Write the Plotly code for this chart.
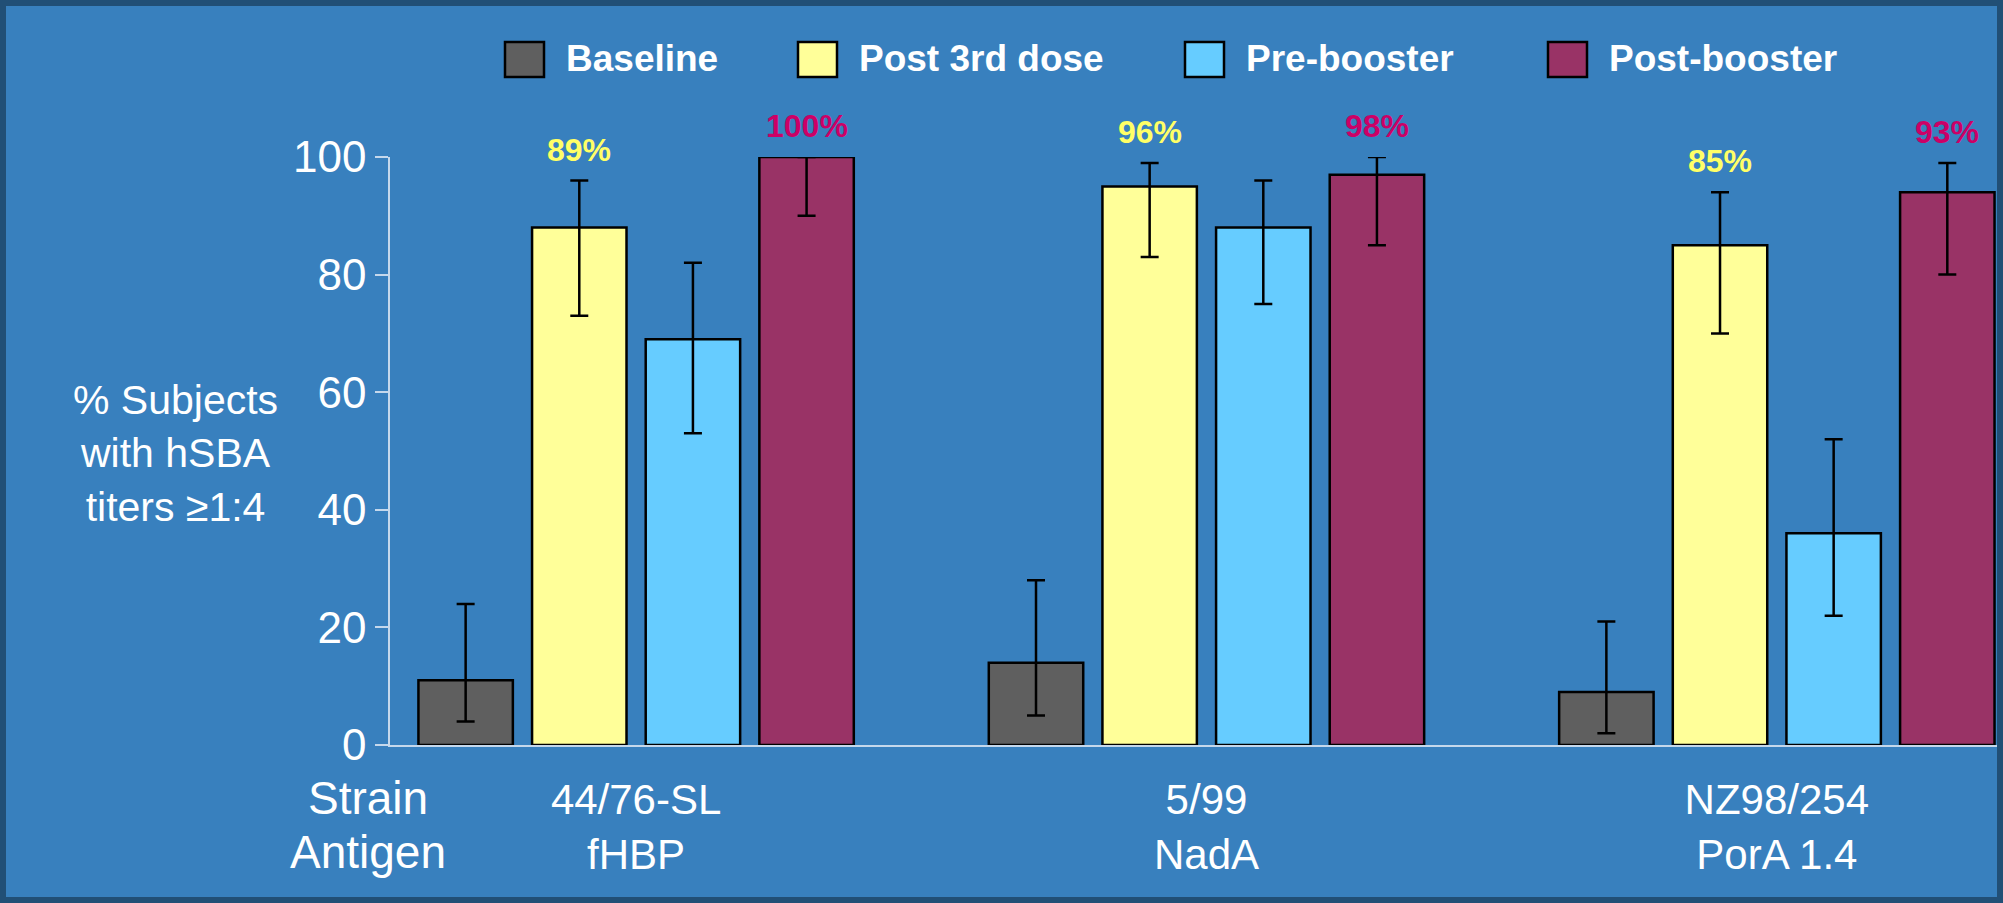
import plotly.graph_objects as go

# ---------------- data ----------------
strains = ["44/76-SL", "5/99", "NZ98/254"]
antigens = ["fHBP", "NadA", "PorA 1.4"]
row_labels = ["Strain", "Antigen"]
series_names = ["Baseline", "Post 3rd dose", "Pre-booster", "Post-booster"]

baseline = [11, 14, 9]
baseline_lo = [4, 5, 2]
baseline_hi = [24, 28, 21]

post3 = [88, 95, 85]
post3_lo = [73, 83, 70]
post3_hi = [96, 99, 94]

pre_boost = [69, 88, 36]
pre_boost_lo = [53, 75, 22]
pre_boost_hi = [82, 96, 52]

post_boost = [100, 97, 94]
post_boost_lo = [90, 85, 80]
post_boost_hi = [100, 100, 99]

post3_labels = ["89%", "96%", "85%"]
post_boost_labels = ["100%", "98%", "93%"]

y_ticks = [0, 20, 40, 60, 80, 100]
y_title = "% Subjects<br>with hSBA<br>titers \u22651:4"

# ---------------- style / layout ----------------
W, H = 2003, 903
L, R, T, B = 390, 6, 157, 158
PW, PH = W - L - R, H - T - B
BG = "#3880BE"
FRAME = "#214F76"
AXIS = "#C5D8EC"
FONT = "Liberation Sans, Arial, sans-serif"
colors = ["#5F5F5F", "#FFFF99", "#66CCFF", "#993366"]
label_colors = {1: "#FFFF66", 3: "#CC0066"}
BARGAP = 0.203
BARGROUPGAP = 0.169
legend_box_px = [505, 798, 1185, 1548]


def px_x(px):
    return (px - L) / PW


def px_y(py):
    return (H - B - py) / PH


series = [
    (baseline, baseline_lo, baseline_hi),
    (post3, post3_lo, post3_hi),
    (pre_boost, pre_boost_lo, pre_boost_hi),
    (post_boost, post_boost_lo, post_boost_hi),
]
xs = list(range(len(strains)))

fig = go.Figure()
for k, (vals, lo, hi) in enumerate(series):
    fig.add_trace(go.Bar(
        x=xs, y=vals, name=series_names[k], showlegend=False,
        marker=dict(color=colors[k], line=dict(color="black", width=2.5)),
        error_y=dict(type="data", symmetric=False,
                     array=[h - v for h, v in zip(hi, vals)],
                     arrayminus=[v - l for v, l in zip(vals, lo)],
                     color="black", thickness=2.5, width=9),
    ))

annotations = []
slot = (1 - BARGAP) / len(series)
for k, labels in ((1, post3_labels), (3, post_boost_labels)):
    hi = series[k][2]
    for i, txt in enumerate(labels):
        annotations.append(dict(
            x=i + (k - 1.5) * slot, y=hi[i], xref="x", yref="y",
            text=f"<b>{txt}</b>", showarrow=False, yshift=31,
            font=dict(family=FONT, size=32, color=label_colors[k]),
        ))

# row labels (Strain / Antigen)
for j, (txt, shift) in enumerate(zip(row_labels, [-53, -107])):
    annotations.append(dict(
        x=px_x(368), y=0, xref="paper", yref="paper", text=txt,
        showarrow=False, yshift=shift, xanchor="center", yanchor="middle",
        font=dict(family=FONT, size=46, color="white"),
    ))

# y title
annotations.append(dict(
    x=px_x(175), y=px_y(453), xref="paper", yref="paper", text=y_title,
    showarrow=False, align="center", xanchor="center", yanchor="middle",
    font=dict(family=FONT, size=41, color="white"),
))

# manual legend
shapes = []
for k, name in enumerate(series_names):
    x0 = legend_box_px[k]
    shapes.append(dict(
        type="rect", xref="paper", yref="paper",
        x0=px_x(x0), x1=px_x(x0 + 39), y0=px_y(77), y1=px_y(42),
        fillcolor=colors[k], line=dict(color="black", width=2.5),
    ))
    annotations.append(dict(
        x=px_x(x0 + 59), y=px_y(58), xref="paper", yref="paper",
        text=f"<b>{name}</b>", showarrow=False, xanchor="left",
        yanchor="middle",
        font=dict(family=FONT, size=37, color="white"),
    ))

# frame
shapes.append(dict(
    type="rect", xref="paper", yref="paper",
    x0=px_x(0), x1=px_x(W), y0=px_y(H), y1=px_y(0),
    line=dict(color=FRAME, width=12), fillcolor="rgba(0,0,0,0)",
    layer="above",
))

fig.update_layout(
    width=W, height=H,
    margin=dict(l=L, r=R, t=T, b=B, pad=0),
    paper_bgcolor=BG, plot_bgcolor=BG,
    barmode="group", bargap=BARGAP, bargroupgap=BARGROUPGAP,
    font=dict(family=FONT, color="white"),
    annotations=annotations, shapes=shapes,
    xaxis=dict(
        range=[-0.4315, 2.386], tickvals=xs,
        ticktext=[f"{s}<br>{a}" for s, a in zip(strains, antigens)],
        tickfont=dict(family=FONT, size=42, color="white"),
        showline=True, linecolor=AXIS, linewidth=1.5,
        ticks="", showgrid=False, zeroline=False,
        ticklabelstandoff=17, fixedrange=True,
    ),
    yaxis=dict(
        range=[0, 100], tickvals=y_ticks,
        tickfont=dict(family=FONT, size=44, color="white"),
        showline=True, linecolor=AXIS, linewidth=1.5,
        ticks="outside", ticklen=13, tickcolor=AXIS, tickwidth=1.5,
        showgrid=False, zeroline=False, fixedrange=True,
    ),
)

fig.write_html(
    "out.html",
    config={"displayModeBar": False},
    post_script="document.body.style.margin='0';document.body.style.overflow='hidden';",
)
